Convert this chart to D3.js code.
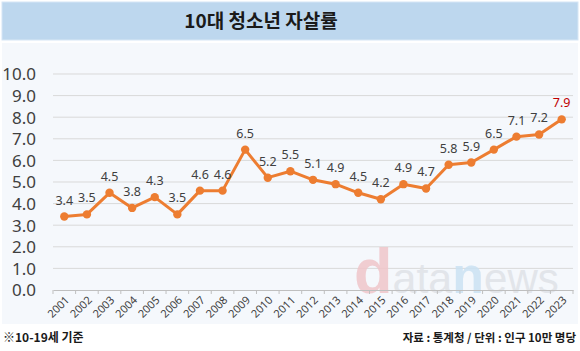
<!DOCTYPE html>
<html><head><meta charset="utf-8">
<script src="https://cdn.jsdelivr.net/npm/d3@7"></script>
<style>
body{margin:0;background:#fff;}
svg{display:block;font-family:"Noto Sans CJK KR","Noto Sans",sans-serif;}
</style></head><body>
<svg id="c" width="580" height="351"></svg>
<script>
const years = ["2001","2002","2003","2004","2005","2006","2007","2008","2009","2010","2011","2012","2013","2014","2015","2016","2017","2018","2019","2020","2021","2022","2023"];
const rates = [3.4,3.5,4.5,3.8,4.3,3.5,4.6,4.6,6.5,5.2,5.5,5.1,4.9,4.5,4.2,4.9,4.7,5.8,5.9,6.5,7.1,7.2,7.9];
const yTicks = [0,1,2,3,4,5,6,7,8,9,10];
const title = "10대 청소년 자살률";
const noteLeft = "※10-19세 기준";
const noteRight = "자료 : 통계청 / 단위 : 인구 10만 명당";

const svg = d3.select("#c");
// title bar
svg.append("rect").attr("x",2).attr("y",2).attr("width",576).attr("height",38)
  .attr("fill","#bdd7ee").attr("stroke","#d6e6f5").attr("stroke-width",1);
svg.append("text").attr("x",261).attr("y",28).attr("text-anchor","middle")
  .attr("font-size",19).attr("font-weight",700).attr("fill","#1a1a1a").text(title);
// plot bg
svg.append("rect").attr("x",2).attr("y",43).attr("width",576).attr("height",281).attr("fill","#f5f8fc");

const x = d3.scaleBand().domain(years).range([53,573]);
const y = d3.scaleLinear().domain([0,10]).range([290,74]);

// gridlines
svg.append("g").selectAll("line").data(yTicks.slice(1)).join("line")
  .attr("x1",53).attr("x2",573).attr("y1",d=>y(d)).attr("y2",d=>y(d))
  .attr("stroke","#d9d9d9").attr("stroke-width",1);

// watermark
const wm = svg.append("text").attr("x",354).attr("y",293)
  .attr("font-family","'Liberation Sans', Arial, sans-serif").attr("opacity",0.85);
wm.append("tspan").attr("fill","#f0c6ca").attr("font-size",63).attr("font-weight",700).text("d");
wm.append("tspan").attr("fill","#dfe2e7").attr("font-size",43).text("ata");
wm.append("tspan").attr("fill","#cbe2f3").attr("font-size",52).attr("font-weight",700).text("n");
wm.append("tspan").attr("fill","#dfe2e7").attr("font-size",42).text("ews");

// y axis labels
const ya = svg.append("g").attr("transform","translate(36,0)")
  .call(d3.axisLeft(y).tickValues(yTicks).tickFormat(d3.format(".1f")).tickSize(0).tickPadding(0));
ya.select(".domain").remove();
ya.selectAll("text").attr("font-size",17).attr("fill","#404040")
  .attr("font-family","'Noto Sans','Open Sans',sans-serif").attr("dy","0.35em");

// x axis
const xa = svg.append("g").attr("transform","translate(0,290)")
  .call(d3.axisBottom(x).tickSize(0).tickPadding(0));
xa.select(".domain").attr("stroke","#bfbfbf");
xa.selectAll(".tick line").remove();
xa.selectAll("text").attr("font-size",11).attr("fill","#404040")
  .attr("font-family","'Noto Sans','Open Sans',sans-serif")
  .attr("text-anchor","end").attr("transform","translate(3,8) rotate(-45)").attr("dy","0.35em");
// band boundary ticks
svg.append("g").selectAll("line").data(years.concat(["end"])).join("line")
  .attr("x1",(d,i)=>53+i*x.step()).attr("x2",(d,i)=>53+i*x.step())
  .attr("y1",290).attr("y2",294).attr("stroke","#bfbfbf");

// line
const cx = d=>x(d)+x.bandwidth()/2;
svg.append("path").datum(rates.map((v,i)=>[years[i],v]))
  .attr("d",d3.line().x(d=>cx(d[0])).y(d=>y(d[1])))
  .attr("fill","none").attr("stroke","#ed7d31").attr("stroke-width",3).attr("stroke-linejoin","round");
svg.append("g").selectAll("circle").data(rates).join("circle")
  .attr("cx",(d,i)=>cx(years[i])).attr("cy",d=>y(d)).attr("r",4.2).attr("fill","#ed7d31");
svg.append("g").selectAll("text").data(rates).join("text")
  .attr("x",(d,i)=>cx(years[i])).attr("y",d=>y(d)-12).attr("text-anchor","middle")
  .attr("font-size",12.5).attr("font-family","'Noto Sans','Open Sans',sans-serif")
  .attr("fill",(d,i)=>i===rates.length-1?"#c00000":"#404040")
  .text(d=>d.toFixed(1));

// notes
svg.append("text").attr("x",3).attr("y",342).attr("font-size",12).attr("font-weight",700).attr("fill","#1a1a1a").text(noteLeft);
svg.append("text").attr("x",576).attr("y",342).attr("text-anchor","end").attr("font-size",11.5).attr("font-weight",700).attr("fill","#1a1a1a").text(noteRight);
</script></body></html>
